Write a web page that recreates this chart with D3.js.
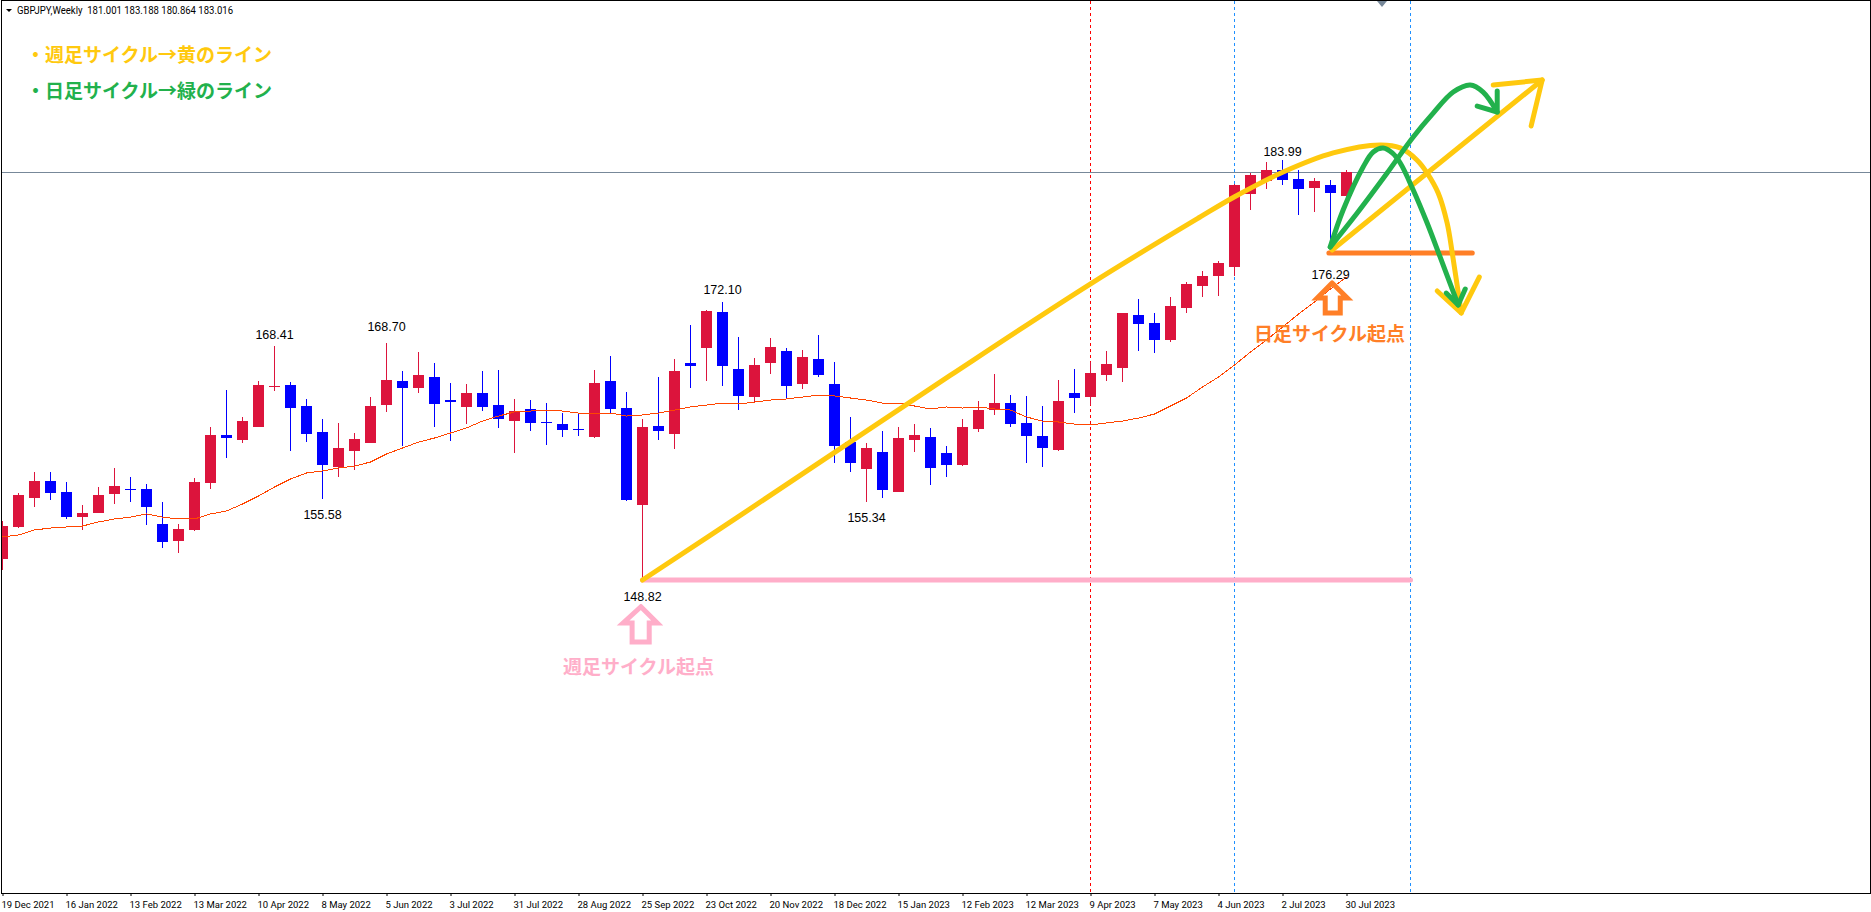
<!DOCTYPE html>
<html><head><meta charset="utf-8">
<script src="https://cdn.jsdelivr.net/npm/d3@7/dist/d3.min.js"></script>
<style>html,body{margin:0;padding:0;background:#fff;overflow:hidden}svg{display:block}</style>
</head><body><svg id="c" width="1871" height="912"></svg>
<script>
// ---- data (GBPJPY weekly OHLC) ----
const highs=[153.76,156.10,157.86,157.86,157.03,155.10,156.61,158.20,157.44,156.86,155.35,153.51,157.36,161.63,164.73,162.47,165.48,168.41,165.40,163.98,162.30,161.97,161.13,164.14,168.70,166.32,167.91,166.99,165.32,165.23,166.32,166.40,163.98,163.89,163.64,162.80,162.72,166.40,167.58,164.56,162.30,165.82,167.33,170.17,171.43,172.10,169.17,167.41,169.08,168.25,168.08,169.33,167.07,162.47,160.29,161.30,161.63,161.88,161.55,160.04,162.30,163.81,166.07,164.31,164.23,163.39,165.57,166.49,167.07,168.00,171.18,172.35,171.18,172.52,173.77,174.70,175.53,181.98,182.90,183.82,183.99,183.15,182.48,182.31,183.188];
const lows=[149.66,153.17,154.93,155.52,153.93,153.01,154.43,155.18,155.35,153.42,151.50,151.08,152.92,156.44,159.03,160.29,161.63,164.65,159.62,160.37,155.58,157.44,158.03,160.29,162.89,160.04,164.48,161.63,160.46,161.88,162.97,161.55,159.45,161.30,160.12,160.79,160.88,160.71,162.72,155.44,148.82,160.54,159.79,164.90,165.48,165.06,163.05,163.72,166.07,164.06,164.81,165.82,158.61,157.86,155.34,155.69,156.19,159.54,156.77,157.44,158.36,161.21,162.64,161.63,158.61,158.28,159.62,162.80,163.47,165.48,165.40,168.00,167.83,168.75,171.18,172.52,172.60,174.28,179.80,181.56,181.90,179.38,179.63,176.29,180.864];
const opens=[150.58,153.26,155.69,157.11,156.19,154.09,154.43,156.02,156.44,156.44,153.51,152.09,153.01,156.94,160.96,160.54,161.63,164.98,165.15,163.39,161.21,158.28,159.62,160.29,163.47,165.48,164.90,165.82,163.89,163.31,164.48,163.47,162.13,163.14,162.05,161.88,161.46,160.79,165.48,163.22,155.10,161.71,161.05,166.99,168.25,171.26,166.49,164.14,166.99,168.00,165.23,167.33,165.23,160.37,158.11,159.54,156.19,160.54,160.79,159.45,158.45,161.46,163.05,163.64,161.97,160.88,159.70,164.48,164.14,165.99,166.57,171.01,170.34,168.92,171.60,173.44,174.28,175.03,181.14,182.23,183.15,182.40,181.64,181.90,181.001];
const closes=[153.34,155.94,157.11,156.10,154.09,154.43,155.94,156.69,156.36,154.93,152.00,153.09,157.03,160.96,160.71,162.13,165.15,165.06,163.22,161.05,158.45,159.87,160.63,163.39,165.57,164.90,165.99,163.56,163.72,164.48,163.31,162.30,162.97,161.97,161.97,161.38,161.38,165.32,163.14,155.52,161.63,161.30,166.32,166.74,171.35,166.74,164.23,166.82,168.33,165.06,167.49,165.99,160.04,158.61,159.87,156.36,160.71,160.96,158.20,158.45,161.63,163.05,163.64,161.88,160.88,159.87,163.81,164.06,166.15,166.91,171.18,170.26,168.92,171.76,173.60,174.28,175.37,181.90,182.73,183.15,182.31,181.56,182.23,181.23,183.016];
const maValues=[152.42,152.59,153.01,153.17,153.26,153.34,153.68,153.93,154.09,154.35,154.09,153.93,153.93,154.35,154.60,155.18,155.85,156.61,157.28,157.78,157.95,158.20,158.36,158.70,159.37,159.87,160.37,160.71,161.13,161.55,162.13,162.55,162.89,162.97,163.05,162.97,162.80,162.80,162.80,162.55,162.64,162.80,163.05,163.31,163.47,163.64,163.56,163.72,163.89,163.98,164.14,164.31,164.23,164.06,163.89,163.64,163.64,163.39,163.14,163.31,163.22,163.31,163.14,163.05,162.47,162.13,162.05,161.88,161.80,161.97,162.13,162.38,162.72,163.39,164.06,164.98,165.82,166.82,167.91,168.92,170.00,171.09,172.10,173.19,174.19];
const tickLabels=["19 Dec 2021","16 Jan 2022","13 Feb 2022","13 Mar 2022","10 Apr 2022","8 May 2022","5 Jun 2022","3 Jul 2022","31 Jul 2022","28 Aug 2022","25 Sep 2022","23 Oct 2022","20 Nov 2022","18 Dec 2022","15 Jan 2023","12 Feb 2023","12 Mar 2023","9 Apr 2023","7 May 2023","4 Jun 2023","2 Jul 2023","30 Jul 2023"];
const extremeBars=[17,24,20,45,54,40,80,83];
const extremeTexts=["168.41","168.70","155.58","172.10","155.34","148.82","183.99","176.29"];
const extremePrices=[168.41,168.70,155.58,172.10,155.34,148.82,183.99,176.29];
const bidPrice=183.016;
const redBar=68, blueBars=[77,88];
const headerText="GBPJPY,Weekly  181.001 183.188 180.864 183.016";
const noteYellow="・週足サイクル→黄のライン", noteGreen="・日足サイクル→緑のライン";
const notePink="週足サイクル起点", noteOrange="日足サイクル起点";
// hand-drawn overlay, as [bar index, price]
const yellowArc=[[40,148.82],[46.3,154.4],[59.23,165.95],[67.98,173.6],[74.86,179.22],[76.98,180.89],[80.04,182.98],[83.17,184.58],[86.1,185.25],[87.35,185.0],[88.4,183.99],[89.04,182.9],[89.73,181.23],[90.29,178.71],[90.61,176.2],[91.17,171.18]];
const yellowArcHead=[[89.67,173.02],[91.17,171.18],[92.3,174.19]];
const yellowRise=[[83.1,176.45],[96.23,190.69]];
const yellowRiseHead=[[93.17,190.27],[96.23,190.69],[95.54,186.84]];
const greenArc=[[82.98,176.7],[83.79,179.8],[85.04,183.4],[85.67,184.66],[86.29,184.99],[86.86,184.58],[87.36,183.74],[88.17,181.48],[89.04,178.71],[89.85,175.87],[90.98,171.85]];
const greenArcHead=[[90.23,172.85],[90.98,171.85],[91.42,173.19]];
const greenRise=[[82.98,176.7],[84.67,179.55],[86.54,182.9],[88.17,185.92],[89.42,187.92],[90.67,189.68],[91.73,190.27],[92.54,189.68],[93.42,188.01]];
const greenRiseHead=[[92.17,188.51],[93.42,188.01],[93.42,189.77]];
const orangeBase=[[82.9,176.2],[91.86,176.2]];
const orangeArrow=[[83.1,173.69],[84.05,172.43],[83.61,172.43],[83.61,171.18],[82.67,171.18],[82.67,172.43],[82.17,172.43],[83.1,173.69]];
const pinkBase=[[40,148.82],[88,148.82]];
const pinkArrow=[[39.9,146.58],[40.92,145.22],[40.42,145.22],[40.42,143.62],[39.35,143.62],[39.35,145.22],[38.79,145.22],[39.9,146.58]];

// ---- scales ----
const x=d3.scaleLinear().domain([0,1]).range([2.5,18.5]);
const y=d3.scaleLinear().domain([183.99,148.82]).range([160,580]);
const svg=d3.select("#c");
const PL=1,PT=1,PR=1870,PB=893;
svg.append("defs").append("clipPath").attr("id","pa").append("rect").attr("x",PL).attr("y",PT).attr("width",PR-PL).attr("height",PB-PT);
const g=svg.append("g").attr("clip-path","url(#pa)");
const C={red:"#dc143c",blue:"#0000ff",ma:"#ff4500",yellow:"#ffc90e",green:"#22b14c",orange:"#ff7f27",pink:"#ffaec9",grid:"#778899"};
const sans="'Liberation Sans',Arial,sans-serif";
const jp="'Noto Sans CJK JP','Noto Sans CJK SC',sans-serif";

// bid line
g.append("line").attr("x1",PL).attr("x2",PR).attr("y1",Math.round(y(bidPrice))+.5).attr("y2",Math.round(y(bidPrice))+.5).attr("stroke",C.grid).attr("stroke-width",1);
// period separators
const vline=(i,col)=>g.append("line").attr("x1",x(i)).attr("x2",x(i)).attr("y1",PT).attr("y2",PB).attr("stroke",col).attr("stroke-width",1).attr("stroke-dasharray","3,3");
vline(redBar,"#ff0000");
blueBars.forEach(i=>vline(i,"#1e90ff"));

// candles
const idx=d3.range(highs.length);
const cg=g.append("g").attr("shape-rendering","crispEdges");
cg.selectAll("rect.w").data(idx).join("rect").attr("class","w")
 .attr("x",i=>x(i)-.5).attr("width",1)
 .attr("y",i=>Math.round(y(highs[i]))).attr("height",i=>Math.max(1,Math.round(y(lows[i]))-Math.round(y(highs[i]))))
 .attr("fill",i=>closes[i]>=opens[i]?C.red:C.blue);
cg.selectAll("rect.b").data(idx).join("rect").attr("class","b")
 .attr("x",i=>x(i)-5.5).attr("width",11)
 .attr("y",i=>Math.round(y(Math.max(opens[i],closes[i]))))
 .attr("height",i=>Math.max(1,Math.round(y(Math.min(opens[i],closes[i])))-Math.round(y(Math.max(opens[i],closes[i])))))
 .attr("fill",i=>closes[i]>=opens[i]?C.red:C.blue);
// moving average
g.append("path").attr("d",d3.line().x((d,i)=>x(i)).y(d=>y(d))(maValues)).attr("fill","none").attr("stroke",C.ma).attr("stroke-width",1).attr("shape-rendering","crispEdges");

// extreme labels
const gaps=[-7,-11.5,20,-8,20,21,-4,27];
g.selectAll("text.e").data(extremeTexts).join("text").attr("class","e").text(d=>d)
 .attr("x",(d,i)=>x(extremeBars[i])).attr("y",(d,i)=>y(extremePrices[i])+gaps[i])
 .attr("text-anchor","middle").attr("font-family",sans).attr("font-size",12.5).attr("fill","#000");

// overlay
const L=d3.line().x(d=>x(d[0])).y(d=>y(d[1]));
const S=d3.line().x(d=>x(d[0])).y(d=>y(d[1])).curve(d3.curveCatmullRom.alpha(.5));
const draw=(gen,pts,col,w,join)=>g.append("path").attr("d",gen(pts)).attr("fill","none").attr("stroke",col).attr("stroke-width",w).attr("stroke-linecap","round").attr("stroke-linejoin",join||"round");
draw(L,pinkBase,C.pink,5);
draw(L,orangeBase,C.orange,5);
draw(S,yellowArc,C.yellow,5);
draw(L,yellowArcHead,C.yellow,5);
draw(L,yellowRise,C.yellow,5);
draw(L,yellowRiseHead,C.yellow,5);
draw(S,greenArc,C.green,5);
draw(L,greenArcHead,C.green,5);
draw(S,greenRise,C.green,5);
draw(L,greenRiseHead,C.green,5);
draw(L,orangeArrow,C.orange,5,"miter");
draw(L,pinkArrow,C.pink,5,"miter");

// notes
const note=(t,xx,yy,col,anchor)=>svg.append("text").text(t).attr("x",xx).attr("y",yy).attr("fill",col).attr("font-family",jp).attr("font-weight",700).attr("font-size",19).attr("text-anchor",anchor||"start");
note(noteYellow,26,62,C.yellow);
note(noteGreen,26,98,C.green);
note(notePink,638.5,674,C.pink,"middle");
note(noteOrange,1329.5,341,C.orange,"middle");

// header
svg.append("path").attr("d",d3.line()([[6,9],[12,9],[9,12]])+"Z").attr("fill","#000");
svg.append("text").text(headerText).attr("x",17).attr("y",13.5).attr("xml:space","preserve").style("white-space","pre")
 .attr("font-family","Roboto,"+sans).attr("font-size",10.5).attr("textLength",216).attr("lengthAdjust","spacingAndGlyphs").attr("fill","#000");
// chart-shift marker
svg.append("path").attr("d",d3.line()([[1377,1],[1387,1],[1382,7]])+"Z").attr("fill",C.grid);

// axes
const tickBars=tickLabels.map((d,i)=>i*4);
const xAxis=d3.axisBottom(x).tickValues(tickBars).tickFormat((d,i)=>tickLabels[i]).tickSize(3).tickSizeOuter(0);
const ax=svg.append("g").attr("transform",`translate(0,${PB})`).call(xAxis);
ax.select(".domain").remove();
ax.selectAll("line").attr("stroke","#000");
ax.selectAll("text").attr("text-anchor","start").attr("dx",-1.5).attr("y",8).attr("dy","0.71em").attr("font-family","Roboto,"+sans).attr("font-size",9.5).attr("fill","#000");

const priceTicks=d3.range(0,26).map(k=>y.invert(890-33*k));
const yAxis=d3.axisRight(y).tickValues(priceTicks).tickFormat("").tickSize(1).tickSizeOuter(0);
const ay=svg.append("g").attr("transform",`translate(${PR},0)`).call(yAxis);
ay.select(".domain").remove();
ay.selectAll("line").attr("stroke","#000");

svg.append("rect").attr("x",1.5).attr("y",.5).attr("width",PR-1.5+.5).attr("height",PB-.5+.5).attr("fill","none").attr("stroke","#000").attr("stroke-width",1).attr("shape-rendering","crispEdges");
</script></body></html>
